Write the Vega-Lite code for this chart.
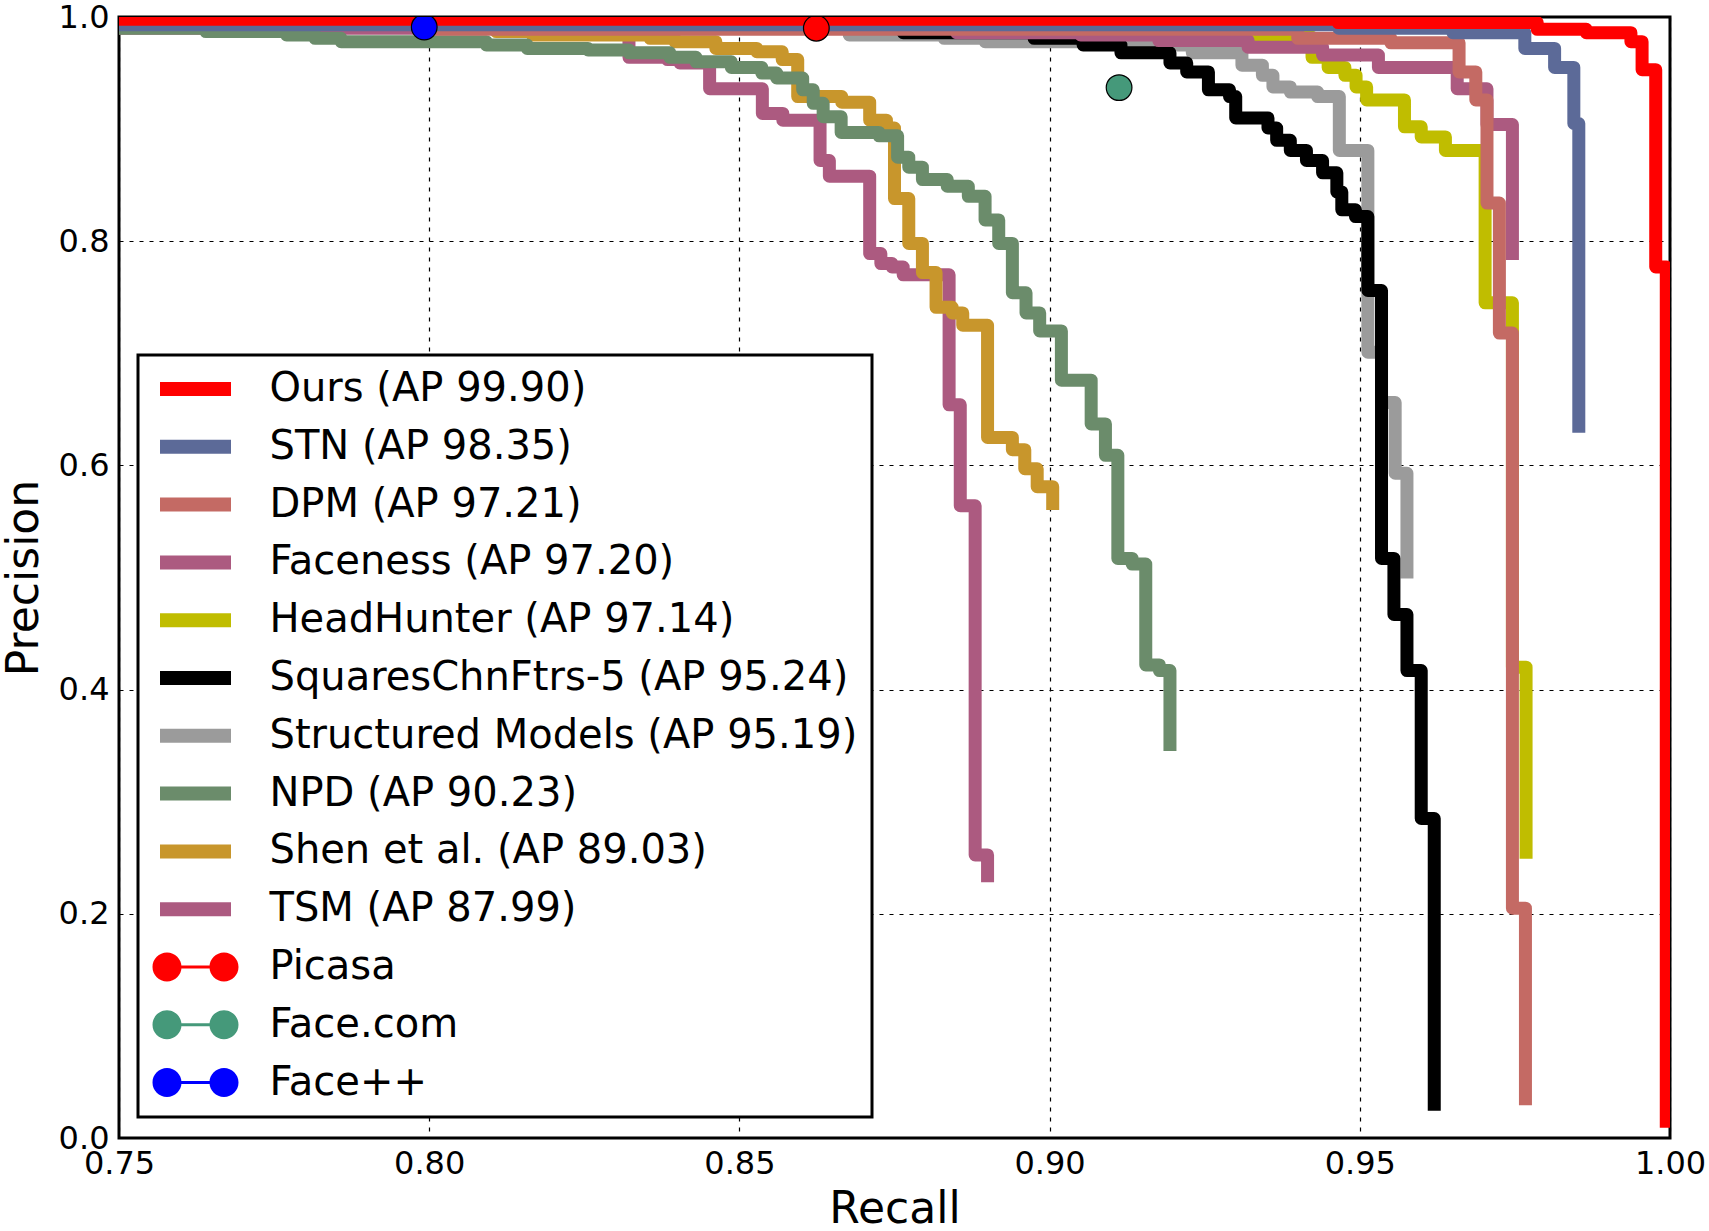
{
  "$schema": "https://vega.github.io/schema/vega-lite/v6.json",
  "autosize": {"type": "none"},
  "padding": {"left": 119, "top": 17, "right": 39, "bottom": 93},
  "width": 1551,
  "height": 1121,
  "background": "white",
  "config": {
    "view": {"stroke": "black", "strokeWidth": 3},
    "font": "DejaVu Sans",
    "legend": {"strokeWidth": 3},
    "axis": {
      "labelFont": "DejaVu Sans",
      "labelFontSize": 32,
      "labelColor": "black",
      "titleFont": "DejaVu Sans",
      "titleFontSize": 44,
      "titleFontWeight": "normal",
      "titleColor": "black",
      "domain": false,
      "ticks": false,
      "grid": true,
      "gridColor": "black",
      "gridDash": [4, 6],
      "gridWidth": 1.2,
      "gridOpacity": 1,
      "labelFlush": false,
      "labelOverlap": false
    }
  },
  "datasets": {
    "curves": [
      {"s": "TSM (AP 87.99)", "r": 0.75, "p": 0.99, "i": 0},
      {"s": "TSM (AP 87.99)", "r": 0.8322, "p": 0.964, "i": 1},
      {"s": "TSM (AP 87.99)", "r": 0.8384, "p": 0.962, "i": 2},
      {"s": "TSM (AP 87.99)", "r": 0.8404, "p": 0.959, "i": 3},
      {"s": "TSM (AP 87.99)", "r": 0.8452, "p": 0.936, "i": 4},
      {"s": "TSM (AP 87.99)", "r": 0.8537, "p": 0.914, "i": 5},
      {"s": "TSM (AP 87.99)", "r": 0.857, "p": 0.908, "i": 6},
      {"s": "TSM (AP 87.99)", "r": 0.863, "p": 0.872, "i": 7},
      {"s": "TSM (AP 87.99)", "r": 0.8645, "p": 0.858, "i": 8},
      {"s": "TSM (AP 87.99)", "r": 0.871, "p": 0.789, "i": 9},
      {"s": "TSM (AP 87.99)", "r": 0.8728, "p": 0.78, "i": 10},
      {"s": "TSM (AP 87.99)", "r": 0.8746, "p": 0.777, "i": 11},
      {"s": "TSM (AP 87.99)", "r": 0.8764, "p": 0.77, "i": 12},
      {"s": "TSM (AP 87.99)", "r": 0.8838, "p": 0.654, "i": 13},
      {"s": "TSM (AP 87.99)", "r": 0.8856, "p": 0.564, "i": 14},
      {"s": "TSM (AP 87.99)", "r": 0.888, "p": 0.2525, "i": 15},
      {"s": "TSM (AP 87.99)", "r": 0.89, "p": 0.234, "i": 16},

      {"s": "Shen et al. (AP 89.03)", "r": 0.75, "p": 0.995, "i": 0},
      {"s": "Shen et al. (AP 89.03)", "r": 0.8108, "p": 0.987, "i": 1},
      {"s": "Shen et al. (AP 89.03)", "r": 0.8166, "p": 0.984, "i": 2},
      {"s": "Shen et al. (AP 89.03)", "r": 0.8356, "p": 0.981, "i": 3},
      {"s": "Shen et al. (AP 89.03)", "r": 0.8396, "p": 0.978, "i": 4},
      {"s": "Shen et al. (AP 89.03)", "r": 0.8462, "p": 0.972, "i": 5},
      {"s": "Shen et al. (AP 89.03)", "r": 0.8528, "p": 0.969, "i": 6},
      {"s": "Shen et al. (AP 89.03)", "r": 0.8569, "p": 0.962, "i": 7},
      {"s": "Shen et al. (AP 89.03)", "r": 0.8594, "p": 0.929, "i": 8},
      {"s": "Shen et al. (AP 89.03)", "r": 0.8665, "p": 0.924, "i": 9},
      {"s": "Shen et al. (AP 89.03)", "r": 0.871, "p": 0.908, "i": 10},
      {"s": "Shen et al. (AP 89.03)", "r": 0.8737, "p": 0.901, "i": 11},
      {"s": "Shen et al. (AP 89.03)", "r": 0.875, "p": 0.838, "i": 12},
      {"s": "Shen et al. (AP 89.03)", "r": 0.8773, "p": 0.798, "i": 13},
      {"s": "Shen et al. (AP 89.03)", "r": 0.8795, "p": 0.772, "i": 14},
      {"s": "Shen et al. (AP 89.03)", "r": 0.8817, "p": 0.741, "i": 15},
      {"s": "Shen et al. (AP 89.03)", "r": 0.8843, "p": 0.736, "i": 16},
      {"s": "Shen et al. (AP 89.03)", "r": 0.886, "p": 0.725, "i": 17},
      {"s": "Shen et al. (AP 89.03)", "r": 0.89, "p": 0.625, "i": 18},
      {"s": "Shen et al. (AP 89.03)", "r": 0.894, "p": 0.614, "i": 19},
      {"s": "Shen et al. (AP 89.03)", "r": 0.896, "p": 0.597, "i": 20},
      {"s": "Shen et al. (AP 89.03)", "r": 0.898, "p": 0.581, "i": 21},
      {"s": "Shen et al. (AP 89.03)", "r": 0.9005, "p": 0.566, "i": 22},

      {"s": "NPD (AP 90.23)", "r": 0.75, "p": 0.99, "i": 0},
      {"s": "NPD (AP 90.23)", "r": 0.764, "p": 0.987, "i": 1},
      {"s": "NPD (AP 90.23)", "r": 0.777, "p": 0.984, "i": 2},
      {"s": "NPD (AP 90.23)", "r": 0.7816, "p": 0.981, "i": 3},
      {"s": "NPD (AP 90.23)", "r": 0.7858, "p": 0.978, "i": 4},
      {"s": "NPD (AP 90.23)", "r": 0.8092, "p": 0.975, "i": 5},
      {"s": "NPD (AP 90.23)", "r": 0.8158, "p": 0.972, "i": 6},
      {"s": "NPD (AP 90.23)", "r": 0.8256, "p": 0.9706, "i": 7},
      {"s": "NPD (AP 90.23)", "r": 0.8322, "p": 0.968, "i": 8},
      {"s": "NPD (AP 90.23)", "r": 0.8388, "p": 0.964, "i": 9},
      {"s": "NPD (AP 90.23)", "r": 0.843, "p": 0.96, "i": 10},
      {"s": "NPD (AP 90.23)", "r": 0.8487, "p": 0.955, "i": 11},
      {"s": "NPD (AP 90.23)", "r": 0.8536, "p": 0.95, "i": 12},
      {"s": "NPD (AP 90.23)", "r": 0.856, "p": 0.9456, "i": 13},
      {"s": "NPD (AP 90.23)", "r": 0.8602, "p": 0.935, "i": 14},
      {"s": "NPD (AP 90.23)", "r": 0.8619, "p": 0.923, "i": 15},
      {"s": "NPD (AP 90.23)", "r": 0.8635, "p": 0.911, "i": 16},
      {"s": "NPD (AP 90.23)", "r": 0.8664, "p": 0.897, "i": 17},
      {"s": "NPD (AP 90.23)", "r": 0.8725, "p": 0.894, "i": 18},
      {"s": "NPD (AP 90.23)", "r": 0.8755, "p": 0.875, "i": 19},
      {"s": "NPD (AP 90.23)", "r": 0.8773, "p": 0.866, "i": 20},
      {"s": "NPD (AP 90.23)", "r": 0.8795, "p": 0.855, "i": 21},
      {"s": "NPD (AP 90.23)", "r": 0.8835, "p": 0.849, "i": 22},
      {"s": "NPD (AP 90.23)", "r": 0.8869, "p": 0.84, "i": 23},
      {"s": "NPD (AP 90.23)", "r": 0.8896, "p": 0.819, "i": 24},
      {"s": "NPD (AP 90.23)", "r": 0.8918, "p": 0.798, "i": 25},
      {"s": "NPD (AP 90.23)", "r": 0.894, "p": 0.754, "i": 26},
      {"s": "NPD (AP 90.23)", "r": 0.8962, "p": 0.736, "i": 27},
      {"s": "NPD (AP 90.23)", "r": 0.8984, "p": 0.72, "i": 28},
      {"s": "NPD (AP 90.23)", "r": 0.9019, "p": 0.676, "i": 29},
      {"s": "NPD (AP 90.23)", "r": 0.9067, "p": 0.637, "i": 30},
      {"s": "NPD (AP 90.23)", "r": 0.909, "p": 0.609, "i": 31},
      {"s": "NPD (AP 90.23)", "r": 0.911, "p": 0.517, "i": 32},
      {"s": "NPD (AP 90.23)", "r": 0.9133, "p": 0.512, "i": 33},
      {"s": "NPD (AP 90.23)", "r": 0.9155, "p": 0.422, "i": 34},
      {"s": "NPD (AP 90.23)", "r": 0.9177, "p": 0.417, "i": 35},
      {"s": "NPD (AP 90.23)", "r": 0.9194, "p": 0.351, "i": 36},

      {"s": "Structured Models (AP 95.19)", "r": 0.75, "p": 0.994, "i": 0},
      {"s": "Structured Models (AP 95.19)", "r": 0.8677, "p": 0.984, "i": 1},
      {"s": "Structured Models (AP 95.19)", "r": 0.883, "p": 0.981, "i": 2},
      {"s": "Structured Models (AP 95.19)", "r": 0.8896, "p": 0.978, "i": 3},
      {"s": "Structured Models (AP 95.19)", "r": 0.919, "p": 0.975, "i": 4},
      {"s": "Structured Models (AP 95.19)", "r": 0.923, "p": 0.968, "i": 5},
      {"s": "Structured Models (AP 95.19)", "r": 0.931, "p": 0.957, "i": 6},
      {"s": "Structured Models (AP 95.19)", "r": 0.9343, "p": 0.948, "i": 7},
      {"s": "Structured Models (AP 95.19)", "r": 0.936, "p": 0.9376, "i": 8},
      {"s": "Structured Models (AP 95.19)", "r": 0.9388, "p": 0.933, "i": 9},
      {"s": "Structured Models (AP 95.19)", "r": 0.9432, "p": 0.929, "i": 10},
      {"s": "Structured Models (AP 95.19)", "r": 0.9467, "p": 0.881, "i": 11},
      {"s": "Structured Models (AP 95.19)", "r": 0.9513, "p": 0.701, "i": 12},
      {"s": "Structured Models (AP 95.19)", "r": 0.9535, "p": 0.656, "i": 13},
      {"s": "Structured Models (AP 95.19)", "r": 0.9557, "p": 0.593, "i": 14},
      {"s": "Structured Models (AP 95.19)", "r": 0.9576, "p": 0.505, "i": 15},

      {"s": "SquaresChnFtrs-5 (AP 95.24)", "r": 0.75, "p": 0.994, "i": 0},
      {"s": "SquaresChnFtrs-5 (AP 95.24)", "r": 0.8764, "p": 0.986, "i": 1},
      {"s": "SquaresChnFtrs-5 (AP 95.24)", "r": 0.8975, "p": 0.981, "i": 2},
      {"s": "SquaresChnFtrs-5 (AP 95.24)", "r": 0.9054, "p": 0.975, "i": 3},
      {"s": "SquaresChnFtrs-5 (AP 95.24)", "r": 0.9115, "p": 0.968, "i": 4},
      {"s": "SquaresChnFtrs-5 (AP 95.24)", "r": 0.9194, "p": 0.959, "i": 5},
      {"s": "SquaresChnFtrs-5 (AP 95.24)", "r": 0.9221, "p": 0.951, "i": 6},
      {"s": "SquaresChnFtrs-5 (AP 95.24)", "r": 0.9256, "p": 0.935, "i": 7},
      {"s": "SquaresChnFtrs-5 (AP 95.24)", "r": 0.929, "p": 0.929, "i": 8},
      {"s": "SquaresChnFtrs-5 (AP 95.24)", "r": 0.93, "p": 0.91, "i": 9},
      {"s": "SquaresChnFtrs-5 (AP 95.24)", "r": 0.9352, "p": 0.901, "i": 10},
      {"s": "SquaresChnFtrs-5 (AP 95.24)", "r": 0.9366, "p": 0.89, "i": 11},
      {"s": "SquaresChnFtrs-5 (AP 95.24)", "r": 0.9388, "p": 0.881, "i": 12},
      {"s": "SquaresChnFtrs-5 (AP 95.24)", "r": 0.9414, "p": 0.872, "i": 13},
      {"s": "SquaresChnFtrs-5 (AP 95.24)", "r": 0.944, "p": 0.861, "i": 14},
      {"s": "SquaresChnFtrs-5 (AP 95.24)", "r": 0.9463, "p": 0.844, "i": 15},
      {"s": "SquaresChnFtrs-5 (AP 95.24)", "r": 0.9471, "p": 0.828, "i": 16},
      {"s": "SquaresChnFtrs-5 (AP 95.24)", "r": 0.9493, "p": 0.822, "i": 17},
      {"s": "SquaresChnFtrs-5 (AP 95.24)", "r": 0.9513, "p": 0.756, "i": 18},
      {"s": "SquaresChnFtrs-5 (AP 95.24)", "r": 0.9535, "p": 0.517, "i": 19},
      {"s": "SquaresChnFtrs-5 (AP 95.24)", "r": 0.9555, "p": 0.467, "i": 20},
      {"s": "SquaresChnFtrs-5 (AP 95.24)", "r": 0.9576, "p": 0.417, "i": 21},
      {"s": "SquaresChnFtrs-5 (AP 95.24)", "r": 0.9599, "p": 0.285, "i": 22},
      {"s": "SquaresChnFtrs-5 (AP 95.24)", "r": 0.962, "p": 0.03, "i": 23},

      {"s": "HeadHunter (AP 97.14)", "r": 0.75, "p": 0.994, "i": 0},
      {"s": "HeadHunter (AP 97.14)", "r": 0.93, "p": 0.982, "i": 1},
      {"s": "HeadHunter (AP 97.14)", "r": 0.9423, "p": 0.964, "i": 2},
      {"s": "HeadHunter (AP 97.14)", "r": 0.9449, "p": 0.955, "i": 3},
      {"s": "HeadHunter (AP 97.14)", "r": 0.9476, "p": 0.948, "i": 4},
      {"s": "HeadHunter (AP 97.14)", "r": 0.9494, "p": 0.9376, "i": 5},
      {"s": "HeadHunter (AP 97.14)", "r": 0.9511, "p": 0.926, "i": 6},
      {"s": "HeadHunter (AP 97.14)", "r": 0.9572, "p": 0.902, "i": 7},
      {"s": "HeadHunter (AP 97.14)", "r": 0.9599, "p": 0.893, "i": 8},
      {"s": "HeadHunter (AP 97.14)", "r": 0.9638, "p": 0.881, "i": 9},
      {"s": "HeadHunter (AP 97.14)", "r": 0.9702, "p": 0.745, "i": 10},
      {"s": "HeadHunter (AP 97.14)", "r": 0.9746, "p": 0.42, "i": 11},
      {"s": "HeadHunter (AP 97.14)", "r": 0.9768, "p": 0.255, "i": 12},

      {"s": "Faceness (AP 97.20)", "r": 0.75, "p": 0.994, "i": 0},
      {"s": "Faceness (AP 97.20)", "r": 0.885, "p": 0.986, "i": 1},
      {"s": "Faceness (AP 97.20)", "r": 0.905, "p": 0.984, "i": 2},
      {"s": "Faceness (AP 97.20)", "r": 0.9176, "p": 0.979, "i": 3},
      {"s": "Faceness (AP 97.20)", "r": 0.932, "p": 0.973, "i": 4},
      {"s": "Faceness (AP 97.20)", "r": 0.944, "p": 0.966, "i": 5},
      {"s": "Faceness (AP 97.20)", "r": 0.953, "p": 0.955, "i": 6},
      {"s": "Faceness (AP 97.20)", "r": 0.9657, "p": 0.936, "i": 7},
      {"s": "Faceness (AP 97.20)", "r": 0.9705, "p": 0.904, "i": 8},
      {"s": "Faceness (AP 97.20)", "r": 0.9746, "p": 0.789, "i": 9},

      {"s": "DPM (AP 97.21)", "r": 0.75, "p": 0.994, "i": 0},
      {"s": "DPM (AP 97.21)", "r": 0.801, "p": 0.989, "i": 1},
      {"s": "DPM (AP 97.21)", "r": 0.94, "p": 0.981, "i": 2},
      {"s": "DPM (AP 97.21)", "r": 0.955, "p": 0.977, "i": 3},
      {"s": "DPM (AP 97.21)", "r": 0.966, "p": 0.951, "i": 4},
      {"s": "DPM (AP 97.21)", "r": 0.9687, "p": 0.926, "i": 5},
      {"s": "DPM (AP 97.21)", "r": 0.9705, "p": 0.834, "i": 6},
      {"s": "DPM (AP 97.21)", "r": 0.9725, "p": 0.718, "i": 7},
      {"s": "DPM (AP 97.21)", "r": 0.9746, "p": 0.205, "i": 8},
      {"s": "DPM (AP 97.21)", "r": 0.9767, "p": 0.035, "i": 9},

      {"s": "STN (AP 98.35)", "r": 0.75, "p": 0.993, "i": 0},
      {"s": "STN (AP 98.35)", "r": 0.9466, "p": 0.99, "i": 1},
      {"s": "STN (AP 98.35)", "r": 0.965, "p": 0.986, "i": 2},
      {"s": "STN (AP 98.35)", "r": 0.9766, "p": 0.972, "i": 3},
      {"s": "STN (AP 98.35)", "r": 0.9814, "p": 0.955, "i": 4},
      {"s": "STN (AP 98.35)", "r": 0.9845, "p": 0.905, "i": 5},
      {"s": "STN (AP 98.35)", "r": 0.9853, "p": 0.635, "i": 6},

      {"s": "Ours (AP 99.90)", "r": 0.75, "p": 0.998, "i": 0},
      {"s": "Ours (AP 99.90)", "r": 0.9465, "p": 0.995, "i": 1},
      {"s": "Ours (AP 99.90)", "r": 0.9786, "p": 0.989, "i": 2},
      {"s": "Ours (AP 99.90)", "r": 0.9865, "p": 0.986, "i": 3},
      {"s": "Ours (AP 99.90)", "r": 0.9937, "p": 0.978, "i": 4},
      {"s": "Ours (AP 99.90)", "r": 0.9955, "p": 0.953, "i": 5},
      {"s": "Ours (AP 99.90)", "r": 0.9977, "p": 0.777, "i": 6},
      {"s": "Ours (AP 99.90)", "r": 0.9994, "p": 0.015, "i": 7}
    ],
    "markers": [
      {"s": "Picasa", "r": 0.8624, "p": 0.99},
      {"s": "Face.com", "r": 0.9112, "p": 0.937},
      {"s": "Face++", "r": 0.7992, "p": 0.991}
    ]
  },
  "layer": [
    {
      "data": {"name": "curves"},
      "mark": {"type": "line", "interpolate": "step-after", "strokeWidth": 13, "clip": true, "strokeJoin": "round", "strokeCap": "square"},
      "encoding": {
        "x": {"field": "r", "type": "quantitative", "title": "Recall",
              "scale": {"domain": [0.75, 1.0], "nice": false, "zero": false},
              "axis": {"values": [0.75, 0.8, 0.85, 0.9, 0.95, 1.0], "format": ".2f", "labelPadding": 10, "titlePadding": 8}},
        "y": {"field": "p", "type": "quantitative", "title": "Precision",
              "scale": {"domain": [0, 1], "nice": false},
              "axis": {"values": [0, 0.2, 0.4, 0.6, 0.8, 1.0], "format": ".1f", "labelPadding": 10, "titlePadding": 12}},
        "order": {"field": "i", "type": "quantitative"},
        "color": {
          "field": "s", "type": "nominal", "title": null,
          "scale": {
            "domain": ["Ours (AP 99.90)", "STN (AP 98.35)", "DPM (AP 97.21)", "Faceness (AP 97.20)", "HeadHunter (AP 97.14)", "SquaresChnFtrs-5 (AP 95.24)", "Structured Models (AP 95.19)", "NPD (AP 90.23)", "Shen et al. (AP 89.03)", "TSM (AP 87.99)", "Picasa", "Face.com", "Face++"],
            "range": ["#ff0000", "#5c6a98", "#c46a64", "#ac5a80", "#c0bd00", "#000000", "#9b9b9b", "#6b8c6b", "#c8962c", "#ac5a80", "#ff0000", "#45997a", "#0000ff"]
          },
          "legend": {
            "orient": "none", "legendX": 19, "legendY": 338,
            "padding": 14, "rowPadding": 17.8,
            "strokeColor": "black", "fillColor": "white",
            "labelFont": "DejaVu Sans", "labelFontSize": 40, "labelColor": "black", "labelLimit": 2000, "labelOffset": 54,
            "symbolSize": 1600, "symbolOffset": 23.5, "symbolStrokeWidth": 0, "symbolOpacity": 1,
            "symbolFillColor": {"expr": "scale('color', datum.value)"},
            "symbolType": {"expr": "indexof(['Picasa', 'Face.com', 'Face++'], datum.value) >= 0 ? 'M-1.425,-0.075H1.425V0.075H-1.425Z M-2.15,0a0.725,0.725 0 1,1 1.45,0a0.725,0.725 0 1,1 -1.45,0Z M0.7,0a0.725,0.725 0 1,1 1.45,0a0.725,0.725 0 1,1 -1.45,0Z' : 'M-1.775,-0.35H1.775V0.35H-1.775Z'"}
          }
        }
      }
    },
    {
      "data": {"name": "markers"},
      "mark": {"type": "point", "shape": "circle", "filled": true, "size": 660, "opacity": 1, "stroke": "black", "strokeWidth": 1.2, "clip": true},
      "encoding": {
        "x": {"field": "r", "type": "quantitative"},
        "y": {"field": "p", "type": "quantitative"},
        "color": {"field": "s", "type": "nominal"}
      }
    }
  ]
}
